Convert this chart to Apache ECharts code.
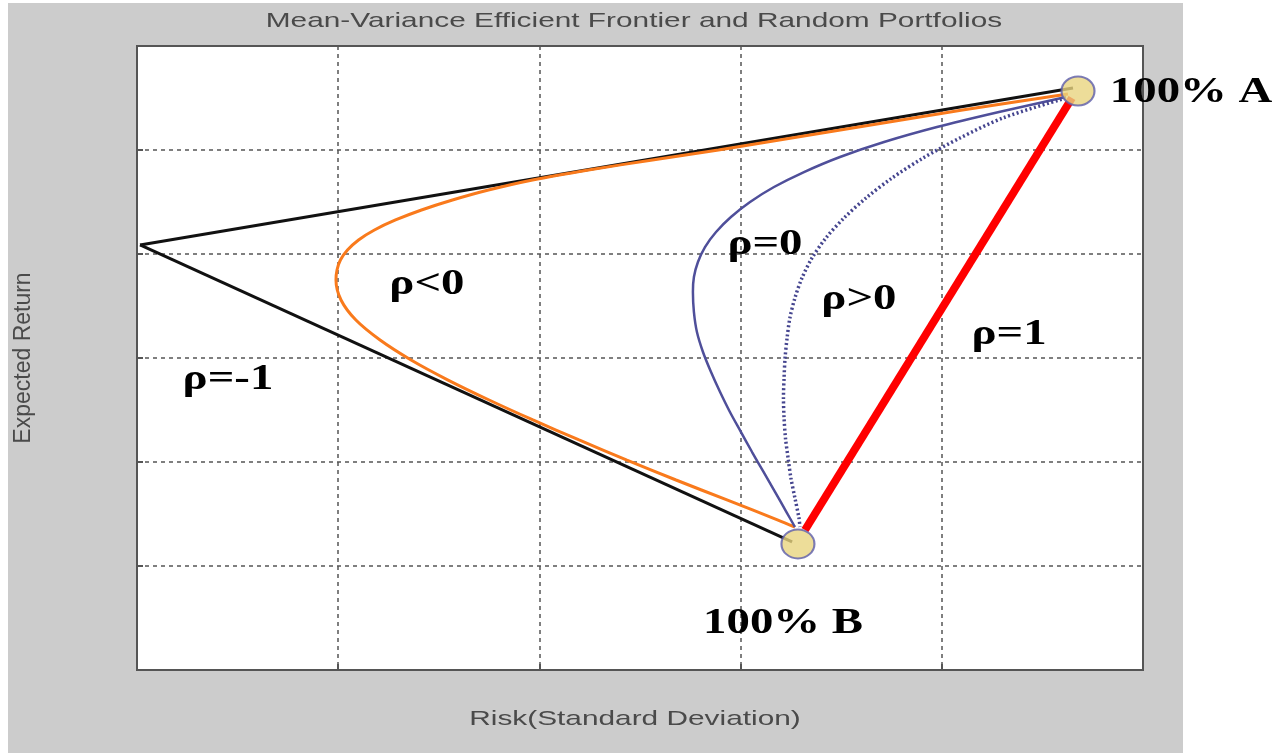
<!DOCTYPE html>
<html>
<head>
<meta charset="utf-8">
<script src="https://cdn.jsdelivr.net/npm/echarts@6/dist/echarts.min.js"></script>
<style>
  html, body { margin: 0; padding: 0; background: #fff; }
  #chart { width: 1273px; height: 753px; }
</style>
</head>
<body>
<div id="chart"></div>
<script>
// risk (x) / expected return (y) pairs
const rhoMinus1Upper = [[0.015, 4.087], [4.652, 5.596]]
const rhoMinus1Lower = [[0.015, 4.087], [3.256, 1.231]]
const rhoOne = [[3.320, 1.346], [4.647, 5.500]]
const rhoNegative = [
  [4.627, 5.538], [4.103, 5.385], [3.496, 5.192], [2.890, 5.000], [2.562, 4.904],
  [2.244, 4.808], [1.966, 4.712], [1.747, 4.615], [1.568, 4.519], [1.414, 4.423],
  [1.285, 4.327], [1.180, 4.231], [1.101, 4.135], [1.046, 4.038], [1.011, 3.942],
  [0.994, 3.846], [0.989, 3.750], [1.014, 3.558], [1.088, 3.365], [1.208, 3.173],
  [1.362, 2.981], [1.546, 2.788], [1.750, 2.596], [1.968, 2.404], [2.197, 2.212],
  [2.435, 2.019], [2.679, 1.827], [2.932, 1.635], [3.186, 1.442], [3.270, 1.375]
]
const rhoZero = [
  [4.617, 5.510], [4.284, 5.365], [3.976, 5.221], [3.713, 5.077], [3.494, 4.933],
  [3.315, 4.788], [3.166, 4.644], [3.047, 4.500], [2.952, 4.356], [2.878, 4.212],
  [2.823, 4.067], [2.788, 3.923], [2.768, 3.779], [2.763, 3.635], [2.768, 3.442],
  [2.783, 3.250], [2.813, 3.058], [2.853, 2.865], [2.898, 2.673], [2.947, 2.481],
  [3.002, 2.288], [3.057, 2.096], [3.114, 1.904], [3.171, 1.712], [3.228, 1.519],
  [3.270, 1.375]
]
const rhoPositive = [
  [4.617, 5.500], [4.304, 5.308], [4.090, 5.115], [3.907, 4.923], [3.753, 4.731],
  [3.623, 4.538], [3.514, 4.346], [3.424, 4.154], [3.355, 3.962], [3.305, 3.769],
  [3.270, 3.577], [3.245, 3.385], [3.231, 3.192], [3.221, 3.000], [3.216, 2.808],
  [3.213, 2.615], [3.216, 2.423], [3.223, 2.231], [3.236, 2.038], [3.250, 1.846],
  [3.270, 1.654], [3.290, 1.462], [3.295, 1.375]
]
const assets = [[4.677, 5.567], [3.285, 1.212]]
const labelTexts = ['ρ=0', 'ρ>0', 'ρ=1', 'ρ<0', 'ρ=-1', '100% B', '100% A']
const labelPoints = [
  [3.121, 4.087], [3.588, 3.558], [4.334, 3.221], [1.441, 3.702],
  [0.452, 2.788], [3.211, 0.442], [5.239, 5.548]
]

const dom = document.getElementById('chart')
const chart = echarts.init(dom, null, { renderer: 'canvas' })

// the source picture is stretched sideways, so text is widened to match
const stretch = 1.3

const axisCommon = {
  type: 'value',
  axisLabel: { show: false },
  axisLine: { show: true, onZero: false, lineStyle: { color: '#555', width: 2 } },
  axisTick: { show: true, inside: true, length: 6, lineStyle: { color: '#555', width: 2 } },
  splitLine: { show: true, lineStyle: { color: '#555', type: [4, 4], width: 1.5 } }
}

const option = {
  backgroundColor: '#fff',
  animation: false,
  graphic: [{
    type: 'rect',
    z: -10,
    silent: true,
    shape: { x: 8, y: 3, width: 1175, height: 750 },
    style: { fill: '#cccccc' }
  }, {
    type: 'text',
    x: 634,
    y: 21,
    scaleX: 1.42,
    silent: true,
    style: {
      text: 'Mean-Variance Efficient Frontier and Random Portfolios',
      font: '21px "Liberation Sans", Arial, sans-serif',
      fill: '#4a4a4a',
      textAlign: 'center',
      textVerticalAlign: 'middle'
    }
  }, {
    type: 'text',
    x: 635,
    y: 719,
    scaleX: 1.42,
    silent: true,
    style: {
      text: 'Risk(Standard Deviation)',
      font: '21px "Liberation Sans", Arial, sans-serif',
      fill: '#4a4a4a',
      textAlign: 'center',
      textVerticalAlign: 'middle'
    }
  }],
  grid: {
    left: 137,
    right: 130,
    top: 46,
    bottom: 83,
    show: true,
    backgroundColor: '#fff',
    borderColor: '#555',
    borderWidth: 2
  },
  xAxis: Object.assign({}, axisCommon, { min: 0, max: 5, interval: 1 }),
  yAxis: Object.assign({}, axisCommon, {
    min: 0, max: 6, interval: 1,
    name: 'Expected Return',
    nameLocation: 'middle',
    nameGap: 102,
    nameTextStyle: { fontFamily: 'Liberation Sans', fontSize: 23, color: '#4a4a4a' }
  }),
  series: [
    {
      // rho = -1, two straight legs
      type: 'line', data: rhoMinus1Upper, symbol: 'none',
      lineStyle: { color: '#111', width: 3 }, z: 3
    },
    {
      type: 'line', data: rhoMinus1Lower, symbol: 'none',
      lineStyle: { color: '#111', width: 3 }, z: 3
    },
    {
      type: 'line', data: rhoNegative, symbol: 'none', smooth: 0.3,
      lineStyle: { color: '#f97a1c', width: 3 }, z: 4
    },
    {
      type: 'line', data: rhoZero, symbol: 'none', smooth: 0.3,
      lineStyle: { color: '#4f4f9a', width: 2.5 }, z: 4
    },
    {
      type: 'line', data: rhoPositive, symbol: 'none', smooth: 0.3,
      lineStyle: { color: '#45458f', width: 3.5, type: [2, 2.5] }, z: 4
    },
    {
      type: 'line', data: rhoOne, symbol: 'none',
      lineStyle: { color: '#ff0000', width: 8 }, z: 5
    },
    {
      // the two single-asset portfolios
      type: 'scatter', data: assets, symbol: 'circle', symbolSize: [33, 29],
      itemStyle: { color: '#e8d47f', borderColor: '#5d5daa', borderWidth: 2 }, z: 6
    },
    {
      type: 'custom',
      z: 7,
      silent: true,
      data: labelPoints.map((p, i) => [p[0], p[1], i]),
      renderItem (params, api) {
        const pt = api.coord([api.value(0), api.value(1)])
        return {
          type: 'text',
          x: pt[0],
          y: pt[1],
          scaleX: stretch,
          style: {
            text: labelTexts[api.value(2)],
            font: 'bold 36px "Liberation Serif", "Times New Roman", serif',
            fill: '#000',
            textAlign: 'center',
            textVerticalAlign: 'middle'
          }
        }
      }
    }
  ]
}

chart.setOption(option)
window.addEventListener('resize', () => chart.resize())
</script>
</body>
</html>
